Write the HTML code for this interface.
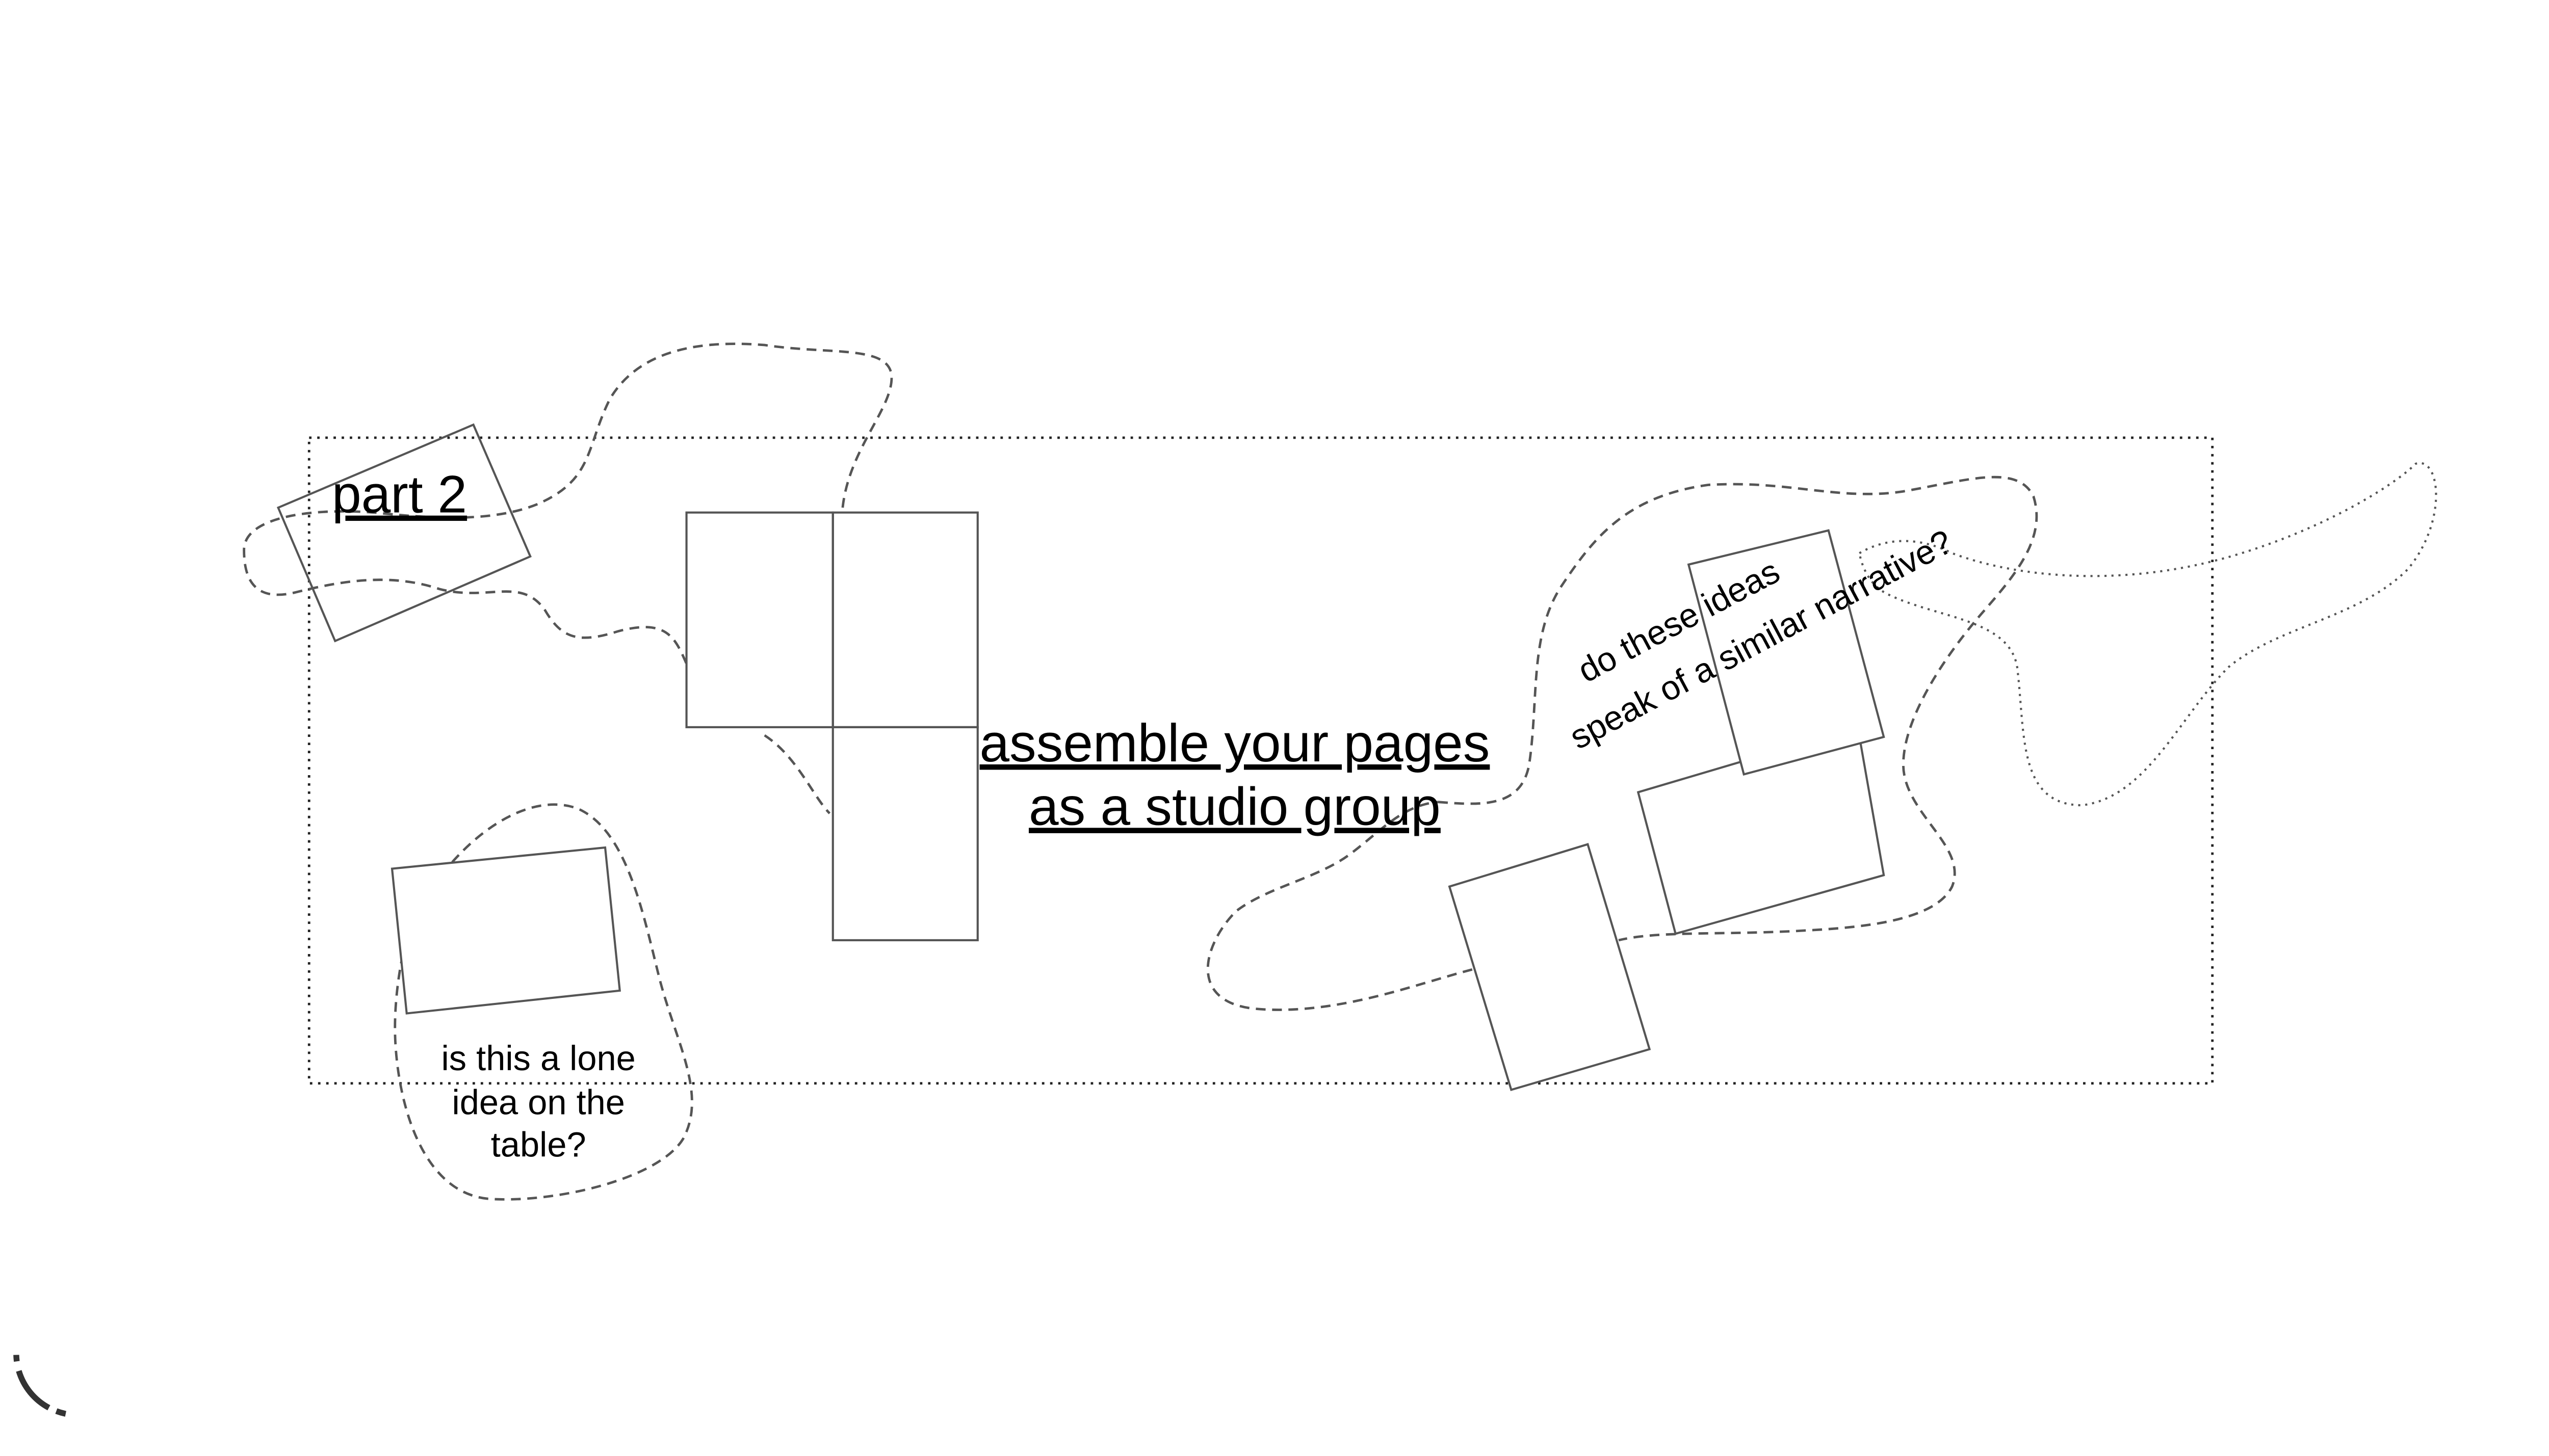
<!DOCTYPE html>
<html><head><meta charset="utf-8"><style>
html,body{margin:0;padding:0;background:#fff;}
svg{display:block;}
text{font-family:"Liberation Sans",Arial,sans-serif;fill:#000;}
</style></head><body>
<svg width="5080" height="2857" viewBox="0 0 1592 895" xmlns="http://www.w3.org/2000/svg">
<rect width="1592" height="895" fill="#fff"/>
<!-- dotted frame -->
<rect x="190" y="269" width="1170" height="397" fill="none" stroke="#222" stroke-width="1.5" stroke-dasharray="1.5 3.5"/>
<g fill="none" stroke="#555" stroke-width="1.5" stroke-dasharray="6 4">
<path d="M518,312 C522,275 550,250 548,230 C545,212 510,218 470,212 C420,208 390,220 375,245 C360,275 365,295 330,310 C300,322 260,318 230,315 C190,312 150,318 150,338 C150,358 158,370 182,364 C210,357 240,352 270,362 C300,370 320,354 335,375 C345,392 355,396 380,388 C410,380 415,392 422,408"/>
<path d="M470,452 C490,465 500,490 510,500"/>
<path d="M278,530 C300,505 330,488 355,497 C385,510 395,560 405,600 C415,640 435,672 420,700 C405,725 340,740 300,737 C260,733 245,680 243,640 C242,620 245,600 247,590"/>
<path d="M884,493 C910,495 935,497 940,470 C946,430 940,390 960,360 C980,330 1000,305 1050,298 C1100,295 1130,308 1170,302 C1210,295 1240,285 1250,305 C1258,330 1240,352 1220,375 C1198,400 1170,440 1170,470 C1170,500 1210,520 1200,545 C1190,565 1150,570 1110,572 C1060,575 1020,572 995,578"/>
<path d="M905,596 C870,605 820,625 770,620 C730,615 740,580 760,560 C780,545 810,540 830,525 C850,510 862,495 884,493"/>
</g>
<path d="M1143,340 C1160,330 1180,330 1200,340 C1240,355 1300,360 1360,345 C1420,330 1470,300 1485,285 C1500,280 1505,320 1480,350 C1450,380 1400,385 1370,410 C1340,440 1320,490 1280,495 C1240,495 1245,450 1240,410 C1235,380 1190,380 1160,365 C1150,360 1145,350 1143,340" fill="none" stroke="#555" stroke-width="1.3" stroke-dasharray="1.3 3"/>
<!-- rects -->
<g fill="none" stroke="#555" stroke-width="1.3">
<polygon points="171,312 291,261 326,342 206,394"/>
<rect x="422" y="315" width="90" height="132"/>
<rect x="512" y="315" width="89" height="132"/>
<rect x="512" y="447" width="89" height="131"/>
<polygon points="241,534 372,521 381,609 250,623" fill="#fff"/>
<polygon points="891,545 976,519 1014,645 929,670" fill="#fff"/>
<polygon points="1007,487 1142,447 1158,538 1030,574" fill="#fff"/>
<polygon points="1038,347 1124,326 1158,453 1072,476" fill="#fff"/>
</g>
<!-- texts -->
<text x="204" y="315" font-size="32.5" text-decoration="underline">part 2</text>
<text x="759" y="468" font-size="33" text-anchor="middle" text-decoration="underline">assemble your pages</text>
<text x="759" y="507" font-size="33" text-anchor="middle" text-decoration="underline">as a studio group</text>
<text font-size="21.5" text-anchor="middle"><tspan x="331" y="658">is this a lone</tspan><tspan x="331" y="685">idea on the</tspan><tspan x="331" y="711">table?</tspan></text>
<g transform="rotate(-28 975 420)"><text x="975" y="420" font-size="21">do these ideas</text></g>
<g transform="rotate(-28 970 461)"><text x="970" y="461" font-size="21">speak of a similar narrative?</text></g>
<!-- corner arc -->
<path d="M10,833 A38,38 0 0 0 48,870" fill="none" stroke="#333" stroke-width="3.6" stroke-dasharray="4 6 30 5 6 30"/>
</svg>
</body></html>
